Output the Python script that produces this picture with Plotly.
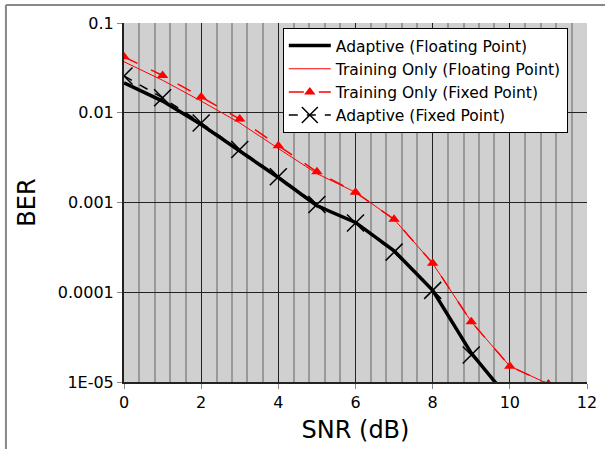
import plotly.graph_objects as go

snr = [0, 1, 2, 3, 4, 5, 6, 7, 8, 9, 10, 11]
adaptive_float = [0.0215, 0.0135, 0.0074, 0.0038, 0.0019, 0.00092, 0.0006, 0.00029, 0.000105, 2.1e-05, 6.3e-06, None]
training_float = [0.037, 0.023, 0.0135, 0.0077, 0.004, 0.0021, 0.0013, 0.00065, 0.00021, 4.7e-05, 1.5e-05, 9.5e-06]
training_fixed = [0.042, 0.026, 0.015, 0.0085, 0.0043, 0.0022, 0.0013, 0.00065, 0.00021, 4.7e-05, 1.5e-05, 9.5e-06]
adaptive_fixed = [0.0257, 0.0147, 0.0077, 0.0039, 0.00194, 0.00095, 0.00059, 0.00028, 0.000105, 2.0e-05, None, None]

yticks = [1e-5, 1e-4, 1e-3, 1e-2, 1e-1]
yticktext = ["1E-05", "0.0001", "0.001", "0.01", "0.1"]

fig = go.Figure()
fig.add_trace(go.Scatter(x=snr, y=adaptive_float, mode="lines", name="Adaptive (Floating Point)",
                         line=dict(color="black", width=3.5)))
fig.add_trace(go.Scatter(x=snr, y=training_float, mode="lines", name="Training Only (Floating Point)",
                         line=dict(color="red", width=1)))
fig.add_trace(go.Scatter(x=snr, y=training_fixed, mode="lines+markers", name="Training Only (Fixed Point)",
                         line=dict(color="red", width=1.5, dash="longdash"),
                         marker=dict(symbol="triangle-up", size=10, color="red")))
fig.add_trace(go.Scatter(x=snr[:10], y=adaptive_fixed[:10], mode="lines+markers", name="Adaptive (Fixed Point)",
                         line=dict(color="black", width=1.5, dash="dash"),
                         marker=dict(symbol="x-thin", size=17, line=dict(color="black", width=1.5))))

fig.update_layout(
    width=605, height=449,
    margin=dict(l=124, r=18, t=23, b=67, autoexpand=False),
    paper_bgcolor="white", plot_bgcolor="#d0d0d0",
    font=dict(family="DejaVu Sans", size=16, color="black"),
    legend=dict(x=0.343, y=0.986, xanchor="left", yanchor="top",
                bgcolor="white", bordercolor="black", borderwidth=1,
                font=dict(size=15.5), tracegroupgap=0, itemwidth=42),
    showlegend=True,
)
fig.update_xaxes(range=[0, 12], dtick=2, tick0=0, showgrid=True, gridcolor="#222222", gridwidth=1,
                 showline=True, linecolor="#222222", linewidth=2, mirror=False,
                 ticks="outside", ticklen=5, tickcolor="#888888", automargin=False,
                 minor=dict(dtick=0.4, tick0=0, showgrid=True, gridcolor="#999999", gridwidth=1.5),
                 zeroline=False,
                 title=dict(text="SNR (dB)", font=dict(size=24), standoff=10))
fig.update_yaxes(type="log", range=[-5, -1], tickvals=yticks, ticktext=yticktext,
                 showgrid=True, gridcolor="#222222", gridwidth=1, automargin=False,
                 showline=True, linecolor="#222222", linewidth=2,
                 ticks="outside", ticklen=5, tickcolor="#888888",
                 title=dict(text="BER", font=dict(size=24), standoff=15))

fig.add_shape(type="line", xref="paper", yref="paper", x0=-0.255, x1=1.04, y0=1.05, y1=1.05,
              line=dict(color="#888888", width=2))
fig.add_shape(type="line", xref="paper", yref="paper", x0=-0.255, x1=-0.255, y0=1.05, y1=-0.2,
              line=dict(color="#888888", width=2))

fig.write_html("out.html")
